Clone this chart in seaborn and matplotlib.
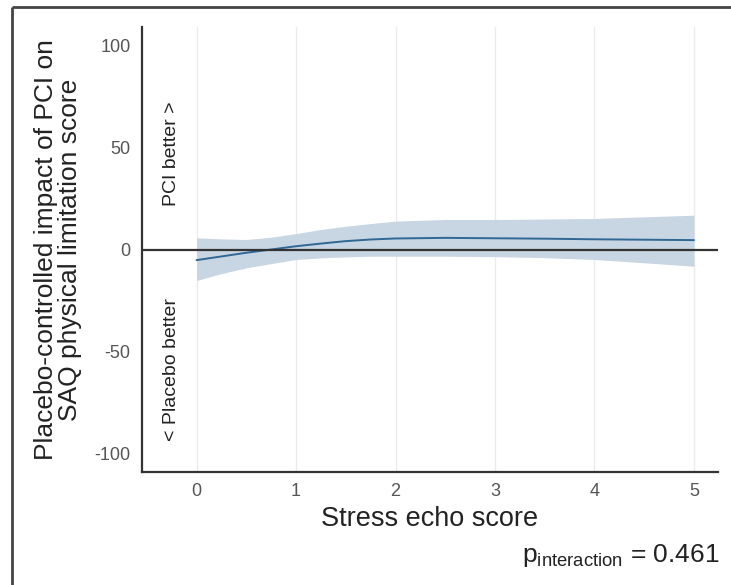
import matplotlib
matplotlib.use("Agg")
import matplotlib.pyplot as plt
from matplotlib.lines import Line2D
import seaborn as sns
import pandas as pd

# ---- data ----
stress_score = [0, 0.25, 0.5, 0.75, 1, 1.25, 1.5, 1.75, 2, 2.5, 3, 3.5, 4, 4.5, 5]
effect = [-5.2, -3.4, -1.6, 0.0, 1.6, 2.9, 4.1, 4.9, 5.4, 5.7, 5.5, 5.3, 5.0, 4.8, 4.6]
ci_upper = [5.7, 5.2, 4.9, 6.0, 7.8, 9.8, 11.4, 12.7, 13.9, 14.7, 14.7, 14.9, 15.2, 16.0, 16.8]
ci_lower = [-15.2, -11.8, -9.0, -6.9, -4.9, -4.1, -3.6, -3.3, -3.3, -3.3, -3.5, -4.0, -4.9, -6.5, -8.2]
x_ticks = [0, 1, 2, 3, 4, 5]
y_ticks = [-100, -50, 0, 50, 100]

df = pd.DataFrame({"score": stress_score, "effect": effect,
                   "lo": ci_lower, "hi": ci_upper})

sns.set_theme(style="white")
plt.rcParams["font.family"] = ["Liberation Sans", "DejaVu Sans"]
plt.rcParams["mathtext.fontset"] = "custom"
plt.rcParams["mathtext.rm"] = "Liberation Sans"
plt.rcParams["mathtext.it"] = "Liberation Sans"

fig = plt.figure(figsize=(7.31, 5.85), dpi=100)
ax = fig.add_axes([0.194, 0.193, 0.788, 0.761])

ax.fill_between(df["score"], df["lo"], df["hi"], color="#c8d5e2", lw=0, zorder=2)
sns.lineplot(data=df, x="score", y="effect", ax=ax, color="#2f6894", lw=1.4, zorder=3)
ax.axhline(0, color="#333333", lw=1.6, zorder=4)

ax.set_xlim(-0.55, 5.24)
ax.set_ylim(-109, 109)
ax.set_xticks(x_ticks)
ax.set_yticks(y_ticks)
ax.set_xticklabels([str(v) for v in x_ticks])
ax.set_yticklabels([str(v) for v in y_ticks])
ax.tick_params(axis="both", length=0, labelsize=13, labelcolor="#555555", pad=8)

ax.grid(axis="x", color="#ebebeb", lw=1)
ax.grid(axis="y", visible=False)
for s in ["top", "right"]:
    ax.spines[s].set_visible(False)
for s in ["left", "bottom"]:
    ax.spines[s].set_color("#333333")
    ax.spines[s].set_linewidth(1.6)

ax.set_xlabel("Stress echo score", fontsize=19.5, color="#222222", labelpad=4)
ax.set_ylabel("Placebo-controlled impact of PCI on\nSAQ physical limitation score",
              fontsize=19, color="#222222", linespacing=1.0)
ax.yaxis.set_label_coords(-0.104, 0.5)

ax.text(-0.25, 47, "PCI better >", rotation=90, ha="center", va="center",
        fontsize=14, color="#222222")
ax.text(-0.25, -59, "< Placebo better", rotation=90, ha="center", va="center",
        fontsize=14, color="#222222")

fig.text(0.984, 1 - 562 / 585, r"p$_{\mathrm{interaction}}$ = 0.461",
         ha="right", va="baseline", fontsize=19, color="#222222")

# outer frame (top and left edges visible in the reference)
fig.add_artist(Line2D([12 / 731, 1.0], [1 - 7 / 585, 1 - 7 / 585],
                      transform=fig.transFigure, color="#444444", lw=2,
                      solid_capstyle="butt"))
fig.add_artist(Line2D([12 / 731, 12 / 731], [0.0, 1 - 7 / 585],
                      transform=fig.transFigure, color="#444444", lw=2,
                      solid_capstyle="butt"))

fig.savefig("out.png", dpi=100)
